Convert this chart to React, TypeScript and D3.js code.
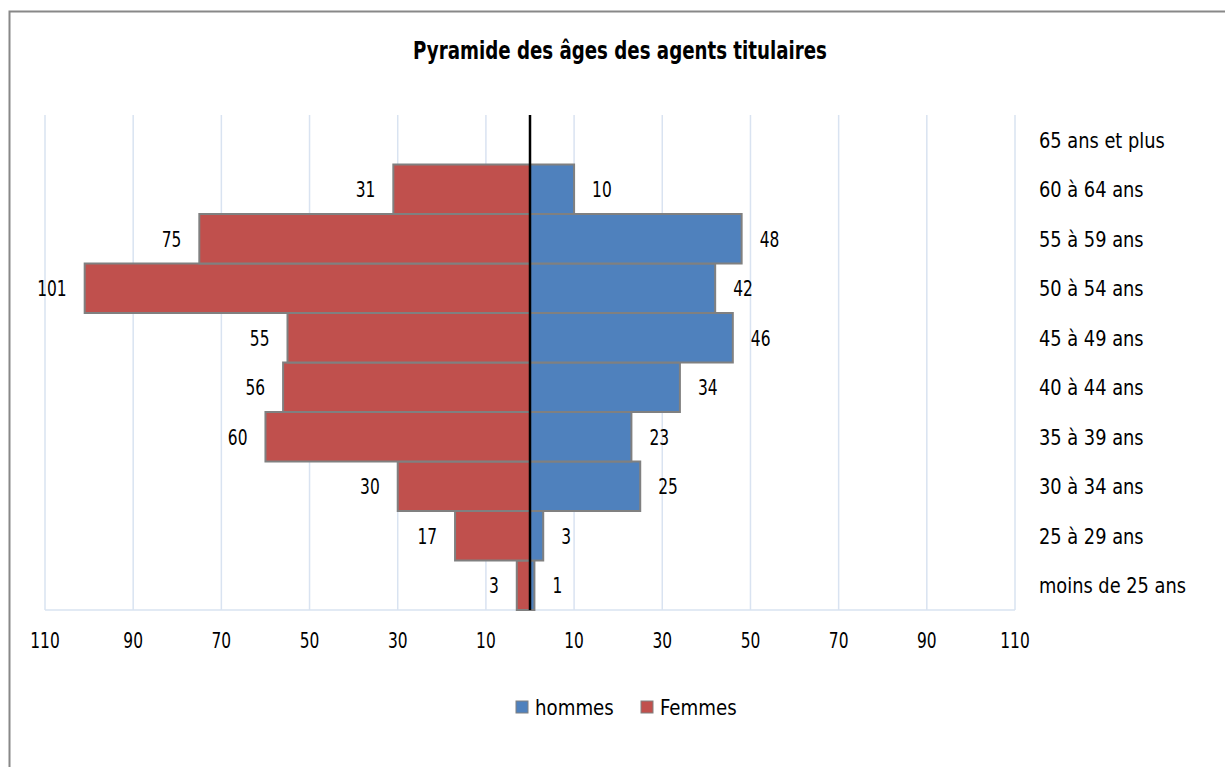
import React from "react";
import * as d3 from "d3";

const categories = [
  "moins de 25 ans",
  "25 à 29 ans",
  "30 à 34 ans",
  "35 à 39 ans",
  "40 à 44 ans",
  "45 à 49 ans",
  "50 à 54 ans",
  "55 à 59 ans",
  "60 à 64 ans",
  "65 ans et plus",
];
const hommes = [1, 3, 25, 23, 34, 46, 42, 48, 10, null];
const femmes = [3, 17, 30, 60, 56, 55, 101, 75, 31, null];
const tickValues = [-110, -90, -70, -50, -30, -10, 10, 30, 50, 70, 90, 110];
const seriesNames = ["hommes", "Femmes"];

const FONT = "'DejaVu Sans Condensed', 'DejaVu Sans', sans-serif";
const BLUE = "#4F81BD";
const RED = "#C0504D";
const GRID = "#D9E3F1";

type TProps = {
  x: number;
  y: number;
  sx: number;
  size: number;
  anchor?: "start" | "middle" | "end";
  bold?: boolean;
  dy?: string;
  children: React.ReactNode;
};

function T({ x, y, sx, size, anchor = "start", bold = false, dy, children }: TProps) {
  return (
    <text
      transform={`translate(${x},${y}) scale(${sx},1)`}
      textAnchor={anchor}
      fontSize={size}
      fontWeight={bold ? "bold" : "normal"}
      dy={dy}
      fill="#000"
      style={{ fontStretch: "condensed" }}
    >
      {children}
    </text>
  );
}

export default function App() {
  const W = 1225;
  const H = 767;
  const x = d3.scaleLinear().domain([-110, 110]).range([45, 1015]);
  const y = d3
    .scaleBand<string>()
    .domain([...categories].reverse())
    .range([115, 610])
    .padding(0);
  const bw = y.bandwidth();

  return (
    <svg
      width={W}
      height={H}
      style={{ position: "absolute", left: 0, top: 0, background: "#fff" }}
      fontFamily={FONT}
    >
      <rect x={9.5} y={11.5} width={1400} height={1000} fill="#fff" stroke="#888" strokeWidth={2} />
      <T x={620} y={59} sx={0.81} size={25} anchor="middle" bold>
        Pyramide des âges des agents titulaires
      </T>

      {/* gridlines */}
      {tickValues.map((t) => (
        <line key={"g" + t} x1={x(t)} x2={x(t)} y1={115} y2={610} stroke={GRID} strokeWidth={1.5} />
      ))}
      <line x1={x(-110)} x2={x(110)} y1={610} y2={610} stroke={GRID} strokeWidth={1.5} />

      {/* bars */}
      {categories.map((c, i) => {
        const yy = y(c)!;
        const f = femmes[i];
        const h = hommes[i];
        return (
          <g key={c}>
            {f != null && (
              <rect x={x(-f)} y={yy} width={x(0) - x(-f)} height={bw} fill={RED} stroke="#808080" strokeWidth={2} />
            )}
            {h != null && (
              <rect x={x(0)} y={yy} width={x(h) - x(0)} height={bw} fill={BLUE} stroke="#808080" strokeWidth={2} />
            )}
          </g>
        );
      })}

      {/* value labels */}
      {categories.map((c, i) => {
        const yc = y(c)! + bw / 2;
        const f = femmes[i];
        const h = hommes[i];
        return (
          <g key={"l" + c}>
            {f != null && (
              <T x={x(-f) - 18} y={yc} sx={0.78} size={22} anchor="end" dy="0.36em">
                {f}
              </T>
            )}
            {h != null && (
              <T x={x(h) + 18} y={yc} sx={0.78} size={22} anchor="start" dy="0.36em">
                {h}
              </T>
            )}
          </g>
        );
      })}

      {/* center line */}
      <line x1={x(0)} x2={x(0)} y1={115} y2={610} stroke="#000" strokeWidth={2.5} />

      {/* x tick labels */}
      {tickValues.map((t) => (
        <T key={"t" + t} x={x(t)} y={648} sx={0.78} size={22} anchor="middle">
          {Math.abs(t)}
        </T>
      ))}

      {/* category labels */}
      {categories.map((c) => (
        <T key={"c" + c} x={1039} y={y(c)! + bw / 2} sx={0.9} size={22} dy="0.36em">
          {c}
        </T>
      ))}

      {/* legend */}
      <rect x={516} y={701} width={12} height={12} fill={BLUE} stroke="#808080" strokeWidth={1} />
      <T x={535} y={707} sx={0.92} size={22} dy="0.36em">{seriesNames[0]}</T>
      <rect x={641} y={701} width={12} height={12} fill={RED} stroke="#808080" strokeWidth={1} />
      <T x={660} y={707} sx={0.92} size={22} dy="0.36em">{seriesNames[1]}</T>
    </svg>
  );
}
